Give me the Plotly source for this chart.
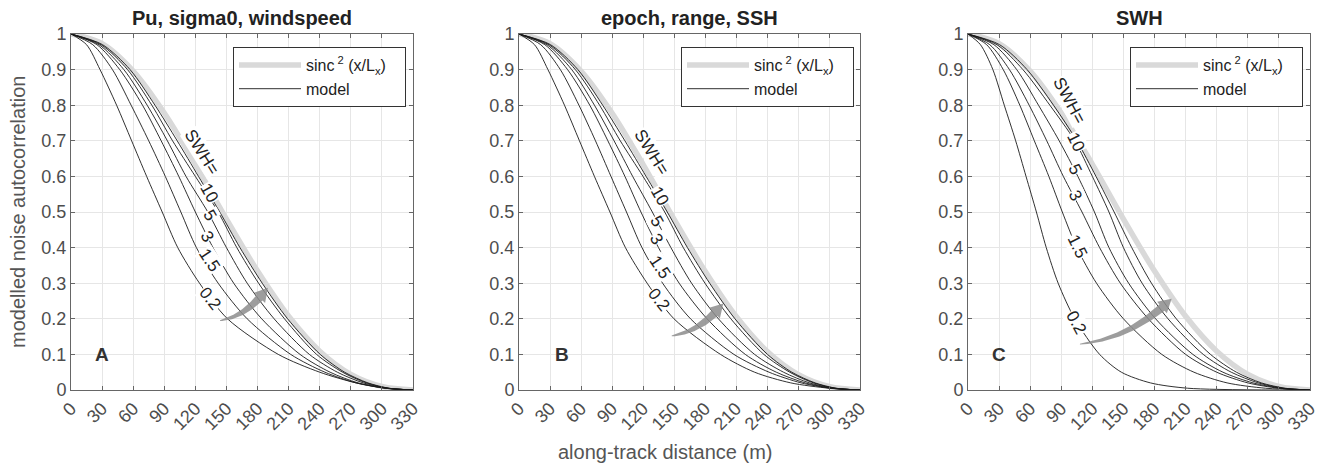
import numpy as np
import plotly.graph_objects as go

# ---------------- data ----------------
X_TICKS = [0, 30, 60, 90, 120, 150, 180, 210, 240, 270, 300, 330]
Y_TICKS = [0, 0.1, 0.2, 0.3, 0.4, 0.5, 0.6, 0.7, 0.8, 0.9, 1]
Y_TICK_TEXT = ["0", "0.1", "0.2", "0.3", "0.4", "0.5", "0.6", "0.7", "0.8", "0.9", "1"]

PANEL_TITLES = ["Pu, sigma0, windspeed", "epoch, range, SSH", "SWH"]
PANEL_LETTERS = ["A", "B", "C"]

# reference sinc^2(x/Lx) curve, sampled along the distance axis
SINC_DIST = [0, 30, 60, 90, 120, 150, 180, 210, 240, 270, 300, 330]
SINC_VAL = [1, 0.973, 0.896, 0.778, 0.634, 0.480, 0.334, 0.207, 0.109, 0.044, 0.010, 0]

# model curves: distance (m) at which each curve crosses these correlation levels
V_LEVELS = [1, 0.97, 0.9, 0.8, 0.7, 0.6, 0.5, 0.4, 0.3, 0.2, 0.1, 0.05, 0.02, 0.005, 0]

A_TOP = [0, 30.5, 57, 81, 102.5, 123, 143.5, 163, 184.5, 209, 240.5, 264, 286.5, 307, 330]
A_SWH10 = [0, 29, 54.5, 78, 98, 120, 142, 160, 181, 206, 237, 262, 285, 306, 330]
A_SWH5 = [0, 27, 51, 73.5, 93, 111, 132, 150, 170, 196, 230, 257, 282, 305, 330]
A_SWH3 = [0, 25, 47, 69, 87, 104, 120, 137, 157, 184, 221, 250, 277, 303, 330]
A_SWH1_5 = [0, 21, 40, 58, 75, 91, 106, 121, 142, 170, 212, 245, 275, 303, 330]
A_SWH0_2 = [0, 15, 28, 44, 58.5, 73, 88, 103, 124, 151, 200, 240, 275, 305, 330]

B_TOP = [0, 30.5, 57, 81, 102.5, 123, 143.5, 163, 184.5, 209, 240.5, 264, 286.5, 307, 330]
B_SWH10 = [0, 29, 54.5, 78, 98, 120, 141, 159, 180, 205, 237, 262, 285, 306, 330]
B_SWH5 = [0, 27, 51, 73, 92, 110, 129, 147, 167, 193, 228, 256, 281, 305, 330]
B_SWH3 = [0, 25, 47, 68.5, 86, 102.5, 118, 135, 155, 182, 219, 249, 277, 303, 330]
B_SWH1_5 = [0, 21, 40, 58, 74, 89, 104, 119, 139, 166, 208, 242, 273, 302, 330]
B_SWH0_2 = [0, 15, 28, 44, 58.5, 73, 88, 103, 124, 150, 195, 228, 263, 300, 330]

C_TOP = [0, 30.5, 57, 82.5, 105, 123.5, 141, 158, 177, 201, 234, 259, 283, 306, 330]
C_SWH10 = [0, 28, 53, 79, 103, 120, 136, 150, 168, 193, 227, 254, 280, 304, 330]
C_SWH5 = [0, 25, 47, 68, 88, 106, 122, 136, 155, 181, 217, 246, 275, 302, 330]
C_SWH3 = [0, 21, 40, 59, 76, 92, 110, 127, 147, 174, 210, 240, 270, 300, 330]
C_SWH1_5 = [0, 18, 34, 50, 64, 78, 91, 105, 124, 150, 187, 218, 250, 287, 330]
C_SWH0_2 = [0, 12, 24, 35, 46, 56, 66, 75.5, 87, 103, 127, 148, 176, 212, 300]

# curve labels: (text, distance, correlation, angle)
A_LABELS = [("SWH=", 126.6, 0.668, 58), ("10", 134, 0.553, 60), ("5", 134, 0.49, 60),
            ("3", 131, 0.43, 60), ("1.5", 134, 0.365, 56), ("0.2", 134, 0.256, 52)]
B_LABELS = [("SWH=", 128.7, 0.668, 58), ("10", 135.5, 0.545, 60), ("5", 133.5, 0.473, 60),
            ("3", 133.5, 0.424, 60), ("1.5", 136.5, 0.344, 56), ("0.2", 135, 0.254, 52)]
C_LABELS = [("SWH=", 97.5, 0.812, 62), ("10", 104.2, 0.695, 64), ("5", 103.2, 0.619, 64),
            ("3", 103.2, 0.545, 64), ("1.5", 105.2, 0.402, 64), ("0.2", 104.7, 0.191, 62)]

# increasing-SWH arrows: start (distance, corr) and tip (distance, corr)
A_ARROW = [(143.8, 0.195), (190, 0.287)]
B_ARROW = [(147.8, 0.152), (197.7, 0.243)]
C_ARROW = [(108, 0.129), (196.5, 0.256)]

LETTER_POS = [(30, 0.1), (42, 0.1), (30, 0.1)]

# ---------------- figure ----------------
PAGE_OFF = 8  # default body margin of the html page
W, H = 1327 - PAGE_OFF, 465 - PAGE_OFF
PANEL_PX = [(71, 413), (519, 860), (968, 1310)]   # page pixels
TOP_PX, BOT_PX = 34, 390


def px(xp):
    return (xp - PAGE_OFF) / W


def py(yp):
    return 1 - (yp - PAGE_OFF) / H


FONT = "Liberation Sans, Arial, Helvetica, sans-serif"
TXT = "#222222"
TICK = "#4d4d4d"

fig = go.Figure()

panels = [
    ([A_TOP, A_SWH10, A_SWH5, A_SWH3, A_SWH1_5, A_SWH0_2], A_LABELS, A_ARROW),
    ([B_TOP, B_SWH10, B_SWH5, B_SWH3, B_SWH1_5, B_SWH0_2], B_LABELS, B_ARROW),
    ([C_TOP, C_SWH10, C_SWH5, C_SWH3, C_SWH1_5, C_SWH0_2], C_LABELS, C_ARROW),
]

legend_names = ["legend", "legend2", "legend3"]


def arrow_polygon(p0, p2, sx, sy):
    P0 = np.array([p0[0] * sx, p0[1] * sy])
    P2 = np.array([p2[0] * sx, p2[1] * sy])
    d = P2 - P0
    P1 = P0 + np.array([0.55 * d[0], 0.12 * d[1]])

    def bez(t):
        return ((1 - t) ** 2)[:, None] * P0 + (2 * (1 - t) * t)[:, None] * P1 + (t ** 2)[:, None] * P2

    def dbez(t):
        return (2 * (1 - t))[:, None] * (P1 - P0) + (2 * t)[:, None] * (P2 - P1)

    t = np.linspace(0, 1, 400)
    pts = bez(t)
    seg = np.sqrt((np.diff(pts, axis=0) ** 2).sum(axis=1))
    L = np.concatenate([[0], np.cumsum(seg)])
    head_len = 13.0
    tb = np.interp(L[-1] - head_len, L, t)
    tt = np.linspace(0, tb, 60)
    c = bez(tt)
    tg = dbez(tt)
    tg = tg / np.linalg.norm(tg, axis=1)[:, None]
    nrm = np.stack([-tg[:, 1], tg[:, 0]], axis=1)
    half = 0.4 + 3.6 * (tt / tb) ** 0.8
    left = c + nrm * half[:, None]
    right = c - nrm * half[:, None]
    hw = 7.5
    base = c[-1]
    hl = base + nrm[-1] * hw
    hr = base - nrm[-1] * hw
    poly = np.vstack([left, hl[None, :], P2[None, :], hr[None, :], right[::-1]])
    return poly[:, 0] / sx, poly[:, 1] / sy


for i, (curves, labels, arrow) in enumerate(panels):
    xa = "x" if i == 0 else f"x{i+1}"
    ya = "y" if i == 0 else f"y{i+1}"
    lg = legend_names[i]
    fig.add_trace(go.Scatter(
        x=SINC_DIST, y=SINC_VAL, mode="lines", line=dict(color="#d9d9d9", width=5.5, shape="spline"),
        name="sinc<sup> 2</sup> (x/L<sub>x</sub>)&nbsp;&nbsp;&nbsp;", xaxis=xa, yaxis=ya, legend=lg,
        hoverinfo="skip"))
    for k, cx in enumerate(curves):
        fig.add_trace(go.Scatter(
            x=cx, y=V_LEVELS, mode="lines", line=dict(color="#1a1a1a", width=0.9, shape="spline", smoothing=0.8),
            name="model", showlegend=(k == 0), xaxis=xa, yaxis=ya, legend=lg, hoverinfo="skip"))
    x0, x1 = PANEL_PX[i]
    sx = (x1 - x0) / 330.0
    sy = (BOT_PX - TOP_PX) / 1.0
    ax_, ay_ = arrow_polygon(arrow[0], arrow[1], sx, sy)
    fig.add_trace(go.Scatter(
        x=ax_, y=ay_, mode="lines", fill="toself", fillcolor="rgba(140,140,140,0.85)",
        line=dict(width=0, color="rgba(0,0,0,0)"), showlegend=False, xaxis=xa, yaxis=ya, hoverinfo="skip"))
    for (txt, lx, ly, ang) in labels:
        fig.add_annotation(x=lx, y=ly, xref=xa, yref=ya, text=txt, showarrow=False,
                           textangle=ang, bgcolor="white", borderpad=0,
                           xanchor="center", yanchor="middle",
                           font=dict(family=FONT, size=17, color=TXT))
    fig.add_annotation(x=LETTER_POS[i][0], y=LETTER_POS[i][1], xref=xa, yref=ya,
                       text="<b>" + PANEL_LETTERS[i] + "</b>", showarrow=False,
                       xanchor="center", yanchor="middle",
                       font=dict(family=FONT, size=19, color="#333333"))
    dom = [px(x0), px(x1)]
    ydom = [py(BOT_PX), py(TOP_PX)]
    axis_common = dict(showline=True, linecolor="#666666", linewidth=1, mirror="ticks",
                       ticks="inside", ticklen=4, tickcolor="#666666",
                       showgrid=True, gridcolor="#e6e6e6", gridwidth=1, zeroline=False,
                       automargin=False,
                       tickfont=dict(family=FONT, size=18, color=TICK))
    fig.layout[("xaxis" if i == 0 else f"xaxis{i+1}")] = dict(
        domain=dom, range=[0, 330], tickvals=X_TICKS, ticktext=[str(v) for v in X_TICKS],
        tickangle=-45, anchor=ya, **axis_common)
    fig.layout[("yaxis" if i == 0 else f"yaxis{i+1}")] = dict(
        domain=ydom, range=[0, 1], tickvals=Y_TICKS, ticktext=Y_TICK_TEXT, anchor=xa, **axis_common)
    fig.add_annotation(x=px((x0 + x1) / 2), y=py(18), xref="paper", yref="paper",
                       text="<b>" + PANEL_TITLES[i] + "</b>", showarrow=False,
                       xanchor="center", yanchor="middle",
                       font=dict(family=FONT, size=20, color=TXT))
    fig.layout[lg] = dict(x=px(x0 + 162), y=py(47), xanchor="left", yanchor="top",
                          bgcolor="white", bordercolor="#333333", borderwidth=1,
                          font=dict(family=FONT, size=16, color=TXT), itemwidth=62,
                          tracegroupgap=0)

fig.add_annotation(x=px(18), y=py(212), xref="paper", yref="paper", text="modelled noise autocorrelation",
                   textangle=-90, showarrow=False, xanchor="center", yanchor="middle",
                   font=dict(family=FONT, size=20, color="#555555"))
fig.add_annotation(x=px(665), y=py(452), xref="paper", yref="paper", text="along-track distance (m)",
                   showarrow=False, xanchor="center", yanchor="middle",
                   font=dict(family=FONT, size=20, color="#555555"))

fig.update_layout(width=W, height=H, autosize=False,
                  margin=dict(l=0, r=0, t=0, b=0, autoexpand=False),
                  paper_bgcolor="white", plot_bgcolor="white")

fig.write_html("out.html")
